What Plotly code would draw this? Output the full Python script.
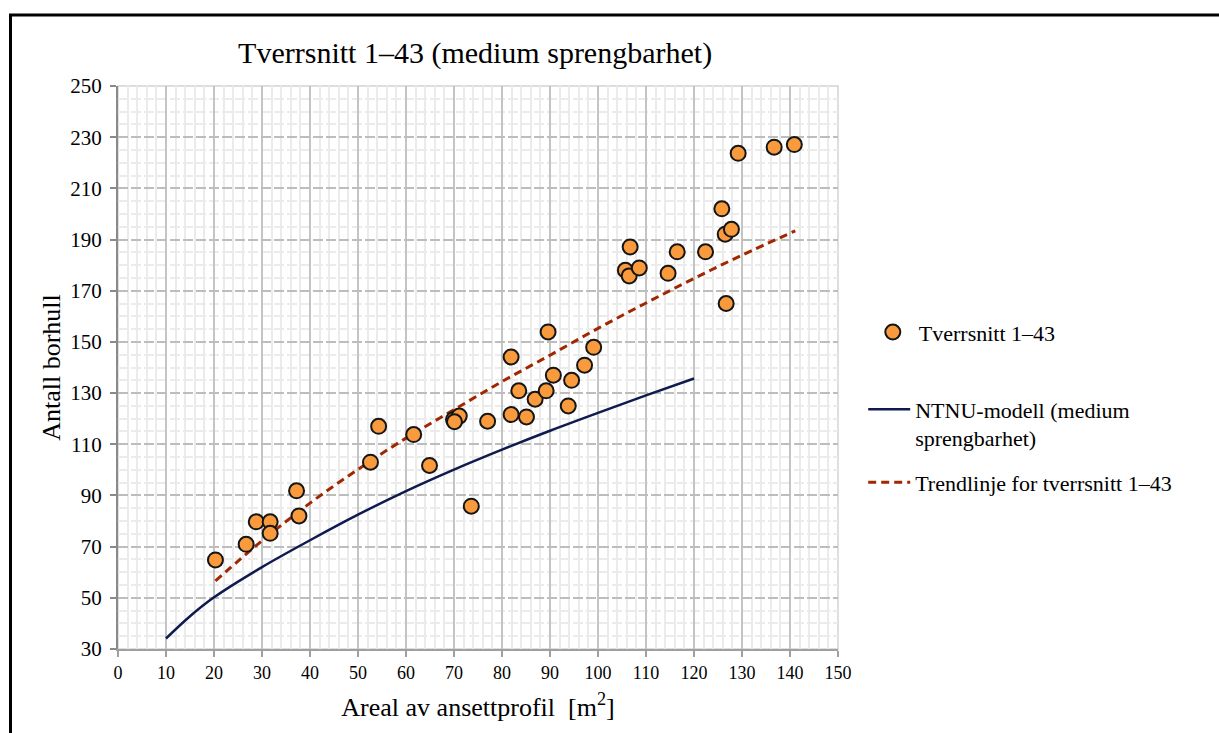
import plotly.graph_objects as go

# ---- data ----
areal = [20.3, 26.7, 28.8, 31.7, 31.7, 37.2, 37.7, 52.6, 54.3, 61.6, 64.9, 69.9,
         71.1, 70.1, 73.6, 77.0, 81.9, 81.9, 83.5, 85.1, 86.9, 89.2, 89.6, 90.7,
         93.8, 94.5, 97.2, 99.1, 105.7, 106.5, 106.7, 108.6, 114.6, 116.5, 122.4,
         125.8, 126.7, 126.5, 127.8, 129.2, 136.7, 140.9]
borhull = [64.8, 70.9, 79.7, 79.7, 75.2, 91.8, 82.0, 103.0, 117.0, 113.8, 101.7, 119.7,
           121.0, 118.8, 85.8, 119.0, 121.6, 144.1, 130.9, 120.7, 127.6, 130.9, 153.9, 137.0,
           125.0, 135.0, 140.9, 147.9, 178.0, 175.8, 187.1, 178.9, 176.8, 185.2, 185.2,
           202.0, 165.0, 192.1, 194.0, 223.7, 226.1, 227.1]

ntnu_x = [10, 15, 20, 30, 40, 50, 60, 70, 80, 90, 100, 110, 120]
ntnu_y = [34.1, 42.8, 50.2, 62.0, 72.5, 82.5, 91.7, 100.1, 107.9, 115.3, 122.3, 129.1, 135.7]

trend_x = [20.3, 30, 40, 50, 60, 70, 80, 90, 100, 110, 120, 130, 141.1]
trend_y = [56.6, 72.3, 87.0, 100.2, 112.4, 123.5, 134.5, 144.8, 155.3, 165.2, 174.8, 183.9, 193.4]

x_ticks = list(range(0, 151, 10))
y_ticks = list(range(30, 251, 20))

SERIF = "Liberation Serif, Times New Roman, serif"

fig = go.Figure()

fig.add_trace(go.Scatter(
    x=ntnu_x, y=ntnu_y, mode="lines", line=dict(color="#0F1A4E", width=2.5, shape="spline"),
    name="NTNU-modell (medium<br>sprengbarhet)", legend="legend2", legendgroup="b"))
fig.add_trace(go.Scatter(
    x=trend_x, y=trend_y, mode="lines",
    line=dict(color="#A02800", width=3, dash="8px,5px", shape="spline"),
    name="Trendlinje for tverrsnitt 1–43", legend="legend2", legendgroup="c"))
fig.add_trace(go.Scatter(
    x=areal, y=borhull, mode="markers",
    marker=dict(size=15, color="#F99A3D", line=dict(color="#151515", width=2)),
    name="Tverrsnitt 1–43", legend="legend", legendgroup="a"))

legend_font = dict(family=SERIF, size=22, color="black")

fig.update_layout(
    width=1219, height=733,
    margin=dict(l=118, r=381, t=86, b=84),
    paper_bgcolor="white", plot_bgcolor="white",
    font=dict(family=SERIF, color="black"),
    title=dict(text="Tverrsnitt 1–43 (medium sprengbarhet)", x=0.496, xref="paper",
               xanchor="center", y=1 - 52 / 733, yref="container", yanchor="middle",
               font=dict(family=SERIF, size=30, color="black")),
    showlegend=True,
    legend=dict(x=1.040, xanchor="left", y=0.60, yanchor="top",
                font=legend_font, valign="top", itemwidth=42,
                bgcolor="rgba(0,0,0,0)"),
    legend2=dict(x=1.035, xanchor="left", y=0.463, yanchor="top",
                 font=legend_font, valign="top", itemwidth=42,
                 traceorder="grouped", tracegroupgap=13,
                 bgcolor="rgba(0,0,0,0)"),
    shapes=[
        dict(type="rect", xref="paper", yref="paper", x0=0, x1=1, y0=0, y1=1,
             line=dict(color="#D4D4D4", width=1.5), layer="below"),
        dict(type="rect", xref="paper", yref="paper",
             x0=(10.5 - 118) / 720, x1=2, y0=(649 - 15) / 563, y1=-1,
             line=dict(color="black", width=3)),
    ],
)

fig.update_xaxes(
    range=[0, 150], tickvals=x_ticks, ticktext=[str(v) for v in x_ticks],
    showgrid=True, gridcolor="#C4C4C4", gridwidth=1.5,
    minor=dict(dtick=2, tick0=0, showgrid=True, gridcolor="#EBEBEB", gridwidth=1.5),
    showline=True, linecolor="#A0A0A0", linewidth=2,
    ticks="outside", ticklen=6, tickcolor="#A0A0A0", tickwidth=1.5,
    tickfont=dict(family=SERIF, size=18, color="black"),
    zeroline=False,
    title=dict(text="Areal av ansettprofil  [m<sup>2</sup>]",
               font=dict(family=SERIF, size=26, color="black"), standoff=16),
)
fig.update_yaxes(
    range=[30, 250], tickvals=y_ticks, ticktext=[str(v) for v in y_ticks],
    showgrid=True, gridcolor="#BDBDBD", gridwidth=1.5, griddash="10px,3px",
    minor=dict(dtick=5, tick0=30, showgrid=True, gridcolor="#EBEBEB", gridwidth=1.5),
    showline=True, linecolor="#8A8A8A", linewidth=2,
    ticks="outside", ticklen=6, tickcolor="#8A8A8A", tickwidth=1.5,
    tickfont=dict(family=SERIF, size=21, color="black"),
    ticklabelstandoff=4,
    zeroline=False,
    title=dict(text="Antall borhull", font=dict(family=SERIF, size=26, color="black"),
               standoff=2),
)

fig.write_html("out.html")
